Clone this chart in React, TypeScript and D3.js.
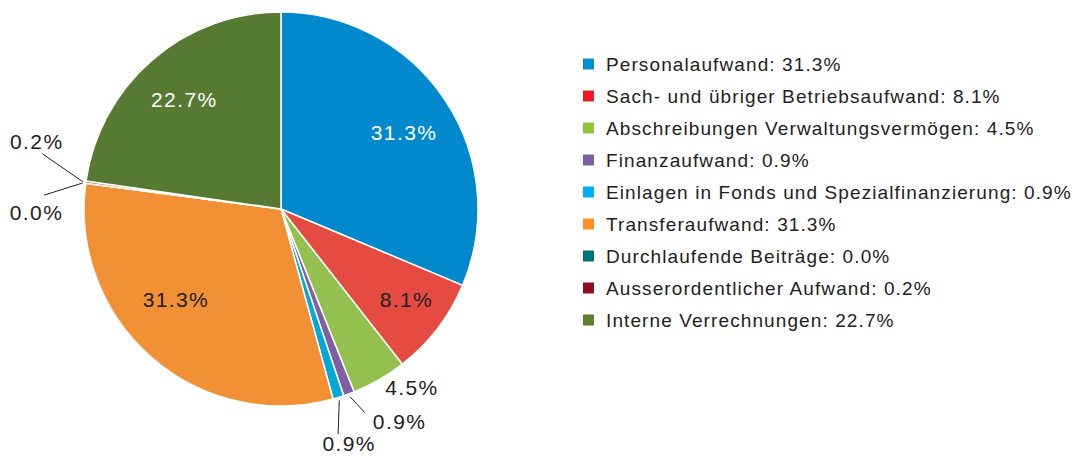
import { useEffect, useRef } from "react"
import * as d3 from "d3"

const categories = [
  "Personalaufwand",
  "Sach- und übriger Betriebsaufwand",
  "Abschreibungen Verwaltungsvermögen",
  "Finanzaufwand",
  "Einlagen in Fonds und Spezialfinanzierung",
  "Transferaufwand",
  "Durchlaufende Beiträge",
  "Ausserordentlicher Aufwand",
  "Interne Verrechnungen",
]
const shares = [31.3, 8.1, 4.5, 0.9, 0.9, 31.3, 0.0, 0.2, 22.7]
const sliceColors = ["#0089cc", "#e54b41", "#93c04f", "#7f5ea6", "#00a9d6", "#f29035", "#006d7a", "#e8423e", "#577a33"]
const legendColors = ["#0091d0", "#ed1c24", "#8cc63f", "#7f5ea6", "#00aeef", "#f7941d", "#00707d", "#8b1020", "#5b7f2b"]
// label placement per slice: inside (with text colour and nudge) or outside with a leader line
const labelStyles: any[] = [
  { inside: true, fill: "#ffffff", dx: 0, dy: 5 },
  { inside: true, fill: "#222", dx: 8, dy: 1 },
  { inside: false, ext: 20, lx: 0, ly: 0, line: false, anchor: "start", tdx: -4, tdy: -9 },
  { inside: false, ext: 20, lx: 9, ly: 0, line: true, anchor: "start", tdx: 8, tdy: 8.5 },
  { inside: false, ext: 30, lx: -9, ly: 8, line: true, anchor: "middle", tdx: 11, tdy: 9.5 },
  { inside: true, fill: "#222", dx: -8, dy: -21 },
  { inside: false, ext: 40, lx: -2, ly: 17, line: true, anchor: "middle", tdx: -7.5, tdy: 17.5 },
  { inside: false, ext: 40, lx: -4, ly: -23, line: true, anchor: "middle", tdx: -5.5, tdy: -12.5 },
  { inside: true, fill: "#ffffff", dx: 0, dy: 2 },
]

export default function App() {
  const svgRef = useRef<SVGSVGElement>(null)

  useEffect(() => {
    const svg = d3.select(svgRef.current)
    svg.selectAll("*").remove()

    const cx = 281
    const cy = 209
    const r = 197
    const font = "'Liberation Sans', Arial, Helvetica, sans-serif"

    const pie = d3.pie<number>().sort(null).value((d) => d)
    const arcs = pie(shares)
    const arc = d3.arc<d3.PieArcDatum<number>>().innerRadius(0).outerRadius(r)

    const g = svg.append("g").attr("transform", `translate(${cx},${cy})`)

    g.selectAll("path.slice")
      .data(arcs)
      .enter()
      .append("path")
      .attr("class", "slice")
      .attr("d", arc)
      .attr("fill", (_, i) => sliceColors[i])
      .attr("stroke", "#fff")
      .attr("stroke-width", 1.5)
      .attr("stroke-linejoin", "round")

    const polar = (rad: number, a: number): [number, number] => [rad * Math.sin(a), -rad * Math.cos(a)]

    arcs.forEach((a, i) => {
      const st = labelStyles[i]
      const mid = (a.startAngle + a.endAngle) / 2
      const text = `${shares[i].toFixed(1)}%`
      const label = g
        .append("text")
        .attr("dy", "0.35em")
        .attr("font-family", font)
        .attr("font-size", 21)
        .attr("letter-spacing", 1.4)
        .text(text)
      if (st.inside) {
        const [x, y] = polar(r * 0.75, mid)
        label
          .attr("x", x + st.dx)
          .attr("y", y + st.dy)
          .attr("text-anchor", "middle")
          .attr("fill", st.fill)
      } else {
        const [x0, y0] = polar(r + 3, mid)
        const [x1r, y1r] = polar(r + st.ext, mid)
        const x1 = x1r + st.lx
        const y1 = y1r + st.ly
        if (st.line) {
          g.append("line")
            .attr("x1", x0)
            .attr("y1", y0)
            .attr("x2", x1)
            .attr("y2", y1)
            .attr("stroke", "#222")
            .attr("stroke-width", 1)
        }
        label
          .attr("x", x1 + st.tdx)
          .attr("y", y1 + st.tdy)
          .attr("text-anchor", st.anchor)
          .attr("fill", "#222")
      }
    })

    // legend
    const legendY = d3.scaleBand<string>().domain(categories).range([48, 336])
    const lg = svg.append("g").attr("transform", "translate(583,0)")
    const items = lg
      .selectAll("g.item")
      .data(categories)
      .enter()
      .append("g")
      .attr("class", "item")
      .attr("transform", (d) => `translate(0,${legendY(d)! + legendY.bandwidth() / 2})`)
    items
      .append("rect")
      .attr("x", 0)
      .attr("y", -5.5)
      .attr("width", 11)
      .attr("height", 11)
      .attr("fill", (_, i) => legendColors[i])
    items
      .append("text")
      .attr("x", 23)
      .attr("dy", "0.35em")
      .attr("font-family", font)
      .attr("font-size", 19)
      .attr("letter-spacing", 1.1)
      .attr("fill", "#222")
      .text((d, i) => `${d}: ${shares[i].toFixed(1)}%`)
  }, [])

  return (
    <div style={{ position: "absolute", left: 0, top: 0, background: "#fff" }}>
      <svg ref={svgRef} width={1078} height={457} style={{ display: "block" }} />
    </div>
  )
}
